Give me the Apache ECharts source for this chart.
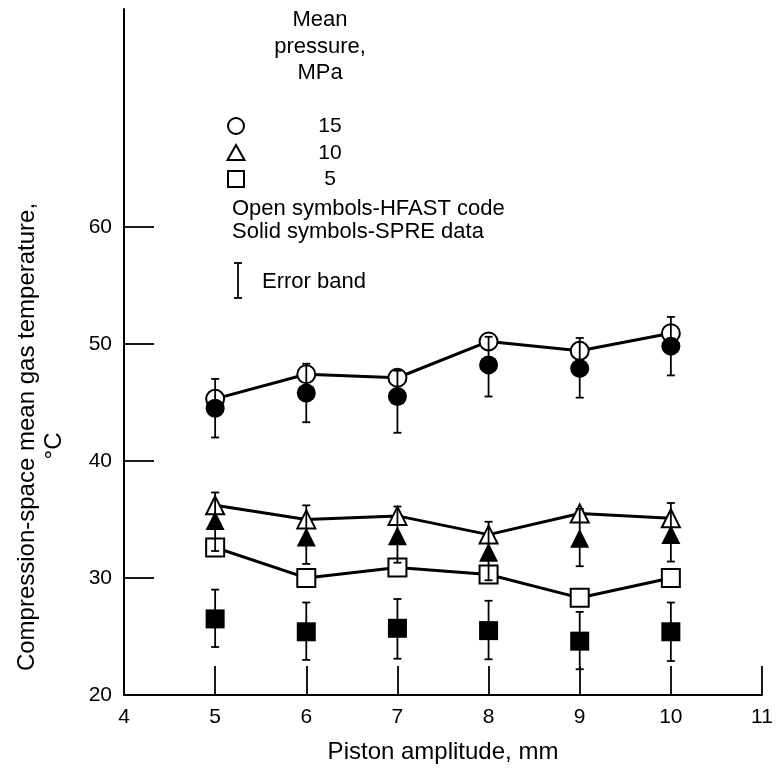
<!DOCTYPE html>
<html>
<head>
<meta charset="utf-8">
<script src="https://cdn.jsdelivr.net/npm/echarts@6/dist/echarts.min.js"></script>
<style>
  html, body { margin: 0; padding: 0; background: #fff; }
  #chart { width: 784px; height: 777px; }
</style>
</head>
<body>
<div id="chart"></div>
<script>
// piston amplitude, mm
let amplitude = [5, 6, 7, 8, 9, 10];

// 15 MPa
let hfast15 = [45.3, 47.4, 47.1, 50.2, 49.4, 50.9];
let spre15 = [44.5, 45.8, 45.5, 48.2, 47.9, 49.8];
let spre15Low = [42.0, 43.3, 42.4, 45.5, 45.4, 47.3];
let spre15High = [47.0, 48.3, 47.7, 50.6, 50.5, 52.3];

// 10 MPa
let hfast10 = [36.2, 35.0, 35.3, 33.7, 35.5, 35.1];
let spre10 = [34.9, 33.5, 33.6, 32.2, 33.4, 33.7];
let spre10Low = [32.3, 31.2, 31.3, 29.8, 31.0, 31.4];
let spre10High = [37.3, 36.2, 36.1, 34.8, 35.9, 36.4];

// 5 MPa
let hfast5 = [32.6, 30.0, 30.9, 30.3, 28.3, 30.0];
let spre5 = [26.5, 25.4, 25.7, 25.5, 24.6, 25.4];
let spre5Low = [24.1, 23.0, 23.1, 23.05, 22.2, 22.9];
let spre5High = [29.0, 27.9, 28.2, 28.05, 27.1, 27.9];

let yTicks = [20, 30, 40, 50, 60];
let legendRows = ["15", "10", "5"];

let font = "Liberation Sans, Arial, sans-serif";
let chart = echarts.init(document.getElementById("chart"));

function pairs(ys) {
  return amplitude.map((x, i) => [x, ys[i]]);
}
function bars(lo, hi) {
  return amplitude.map((x, i) => [x, lo[i], hi[i]]);
}

function errorBar(params, api) {
  let top = api.coord([api.value(0), api.value(2)]);
  let bot = api.coord([api.value(0), api.value(1)]);
  let cap = 4;
  let style = { stroke: "#000", lineWidth: 1.8 };
  return {
    type: "group",
    children: [
      { type: "line", shape: { x1: top[0], y1: top[1], x2: bot[0], y2: bot[1] }, style: style },
      { type: "line", shape: { x1: top[0] - cap, y1: top[1], x2: top[0] + cap, y2: top[1] }, style: style },
      { type: "line", shape: { x1: bot[0] - cap, y1: bot[1], x2: bot[0] + cap, y2: bot[1] }, style: style },
    ],
  };
}

let openStyle = { color: "#fff", borderColor: "#000", borderWidth: 2, opacity: 1 };
let solidStyle = { color: "#000", opacity: 1 };
let lineStyle = { color: "#000", width: 3 };

function hfastLine(name, ys, symbol, size) {
  return {
    name: name,
    type: "line",
    data: pairs(ys),
    symbol: symbol,
    symbolSize: size,
    showAllSymbol: true,
    lineStyle: lineStyle,
    itemStyle: openStyle,
    z: 2,
  };
}
function spreScatter(name, ys, symbol, size) {
  return {
    name: name,
    type: "scatter",
    data: pairs(ys),
    symbol: symbol,
    symbolSize: size,
    itemStyle: solidStyle,
    z: 4,
  };
}
function errSeries(name, lo, hi) {
  return {
    name: name,
    type: "custom",
    data: bars(lo, hi),
    renderItem: errorBar,
    z: 3,
  };
}

let legendX = 236;
let legendY = [126, 153, 179];
let textStyle = { fill: "#000", font: "22px " + font };
let numStyle = { fill: "#000", font: "21px " + font };
let titleStyle = { fill: "#000", font: "24px " + font };

let graphics = [
  { type: "text", style: Object.assign({ text: "Mean", x: 320, y: 20, align: "center", verticalAlign: "middle" }, textStyle) },
  { type: "text", style: Object.assign({ text: "pressure,", x: 320, y: 47, align: "center", verticalAlign: "middle" }, textStyle) },
  { type: "text", style: Object.assign({ text: "MPa", x: 320, y: 73, align: "center", verticalAlign: "middle" }, textStyle) },
  { type: "circle", shape: { cx: legendX, cy: legendY[0], r: 8 }, style: { fill: "#fff", stroke: "#000", lineWidth: 2 } },
  { type: "polygon", shape: { points: [[legendX, legendY[1] - 8], [legendX - 8.5, legendY[1] + 7], [legendX + 8.5, legendY[1] + 7]] }, style: { fill: "#fff", stroke: "#000", lineWidth: 2 } },
  { type: "rect", shape: { x: legendX - 8, y: legendY[2] - 8, width: 16, height: 16 }, style: { fill: "#fff", stroke: "#000", lineWidth: 2 } },
  { type: "text", style: Object.assign({ text: "Open symbols-HFAST code", x: 232, y: 209, verticalAlign: "middle" }, textStyle) },
  { type: "text", style: Object.assign({ text: "Solid symbols-SPRE data", x: 232, y: 232, verticalAlign: "middle" }, textStyle) },
  { type: "line", shape: { x1: 238, y1: 263, x2: 238, y2: 298 }, style: { stroke: "#000", lineWidth: 1.8 } },
  { type: "line", shape: { x1: 234, y1: 263, x2: 242, y2: 263 }, style: { stroke: "#000", lineWidth: 1.8 } },
  { type: "line", shape: { x1: 234, y1: 298, x2: 242, y2: 298 }, style: { stroke: "#000", lineWidth: 1.8 } },
  { type: "text", style: Object.assign({ text: "Error band", x: 262, y: 282, verticalAlign: "middle" }, textStyle) },
  { type: "text", rotation: Math.PI / 2, x: 27, y: 437, style: Object.assign({ text: "Compression-space mean gas temperature,", align: "center", verticalAlign: "middle" }, titleStyle) },
  { type: "text", rotation: Math.PI / 2, x: 54, y: 446, style: Object.assign({ text: "°C", align: "center", verticalAlign: "middle" }, titleStyle) },
];
legendRows.forEach((t, i) => {
  graphics.push({ type: "text", style: Object.assign({ text: t, x: 330, y: legendY[i], align: "center", verticalAlign: "middle" }, numStyle) });
});

let option = {
  backgroundColor: "#fff",
  animation: false,
  grid: { left: 124, right: 22, top: 9, bottom: 82 },
  xAxis: {
    type: "value",
    min: 4,
    max: 11,
    interval: 1,
    name: "Piston amplitude, mm",
    nameLocation: "middle",
    nameGap: 45,
    nameTextStyle: { color: "#000", fontSize: 24, fontFamily: font },
    axisLine: { onZero: false, lineStyle: { color: "#000", width: 2 } },
    axisTick: { inside: true, length: 29, lineStyle: { color: "#000", width: 1.8 } },
    axisLabel: { color: "#000", fontSize: 21, fontFamily: font, margin: 12 },
    splitLine: { show: false },
  },
  yAxis: {
    type: "value",
    min: 20,
    max: 78.6,
    axisLine: { onZero: false, lineStyle: { color: "#000", width: 2 } },
    axisTick: { inside: true, length: 30, customValues: yTicks.slice(1), lineStyle: { color: "#000", width: 1.8 } },
    axisLabel: { color: "#000", fontSize: 21, fontFamily: font, margin: 12, customValues: yTicks },
    splitLine: { show: false },
  },
  graphic: graphics,
  series: [
    hfastLine("15 MPa HFAST", hfast15, "circle", 18),
    hfastLine("10 MPa HFAST", hfast10, "triangle", 18),
    hfastLine("5 MPa HFAST", hfast5, "rect", 18),
    errSeries("15 MPa error", spre15Low, spre15High),
    errSeries("10 MPa error", spre10Low, spre10High),
    errSeries("5 MPa error", spre5Low, spre5High),
    spreScatter("15 MPa SPRE", spre15, "circle", 19),
    spreScatter("10 MPa SPRE", spre10, "triangle", 19),
    spreScatter("5 MPa SPRE", spre5, "rect", 19),
  ],
};
chart.setOption(option);
</script>
</body>
</html>
